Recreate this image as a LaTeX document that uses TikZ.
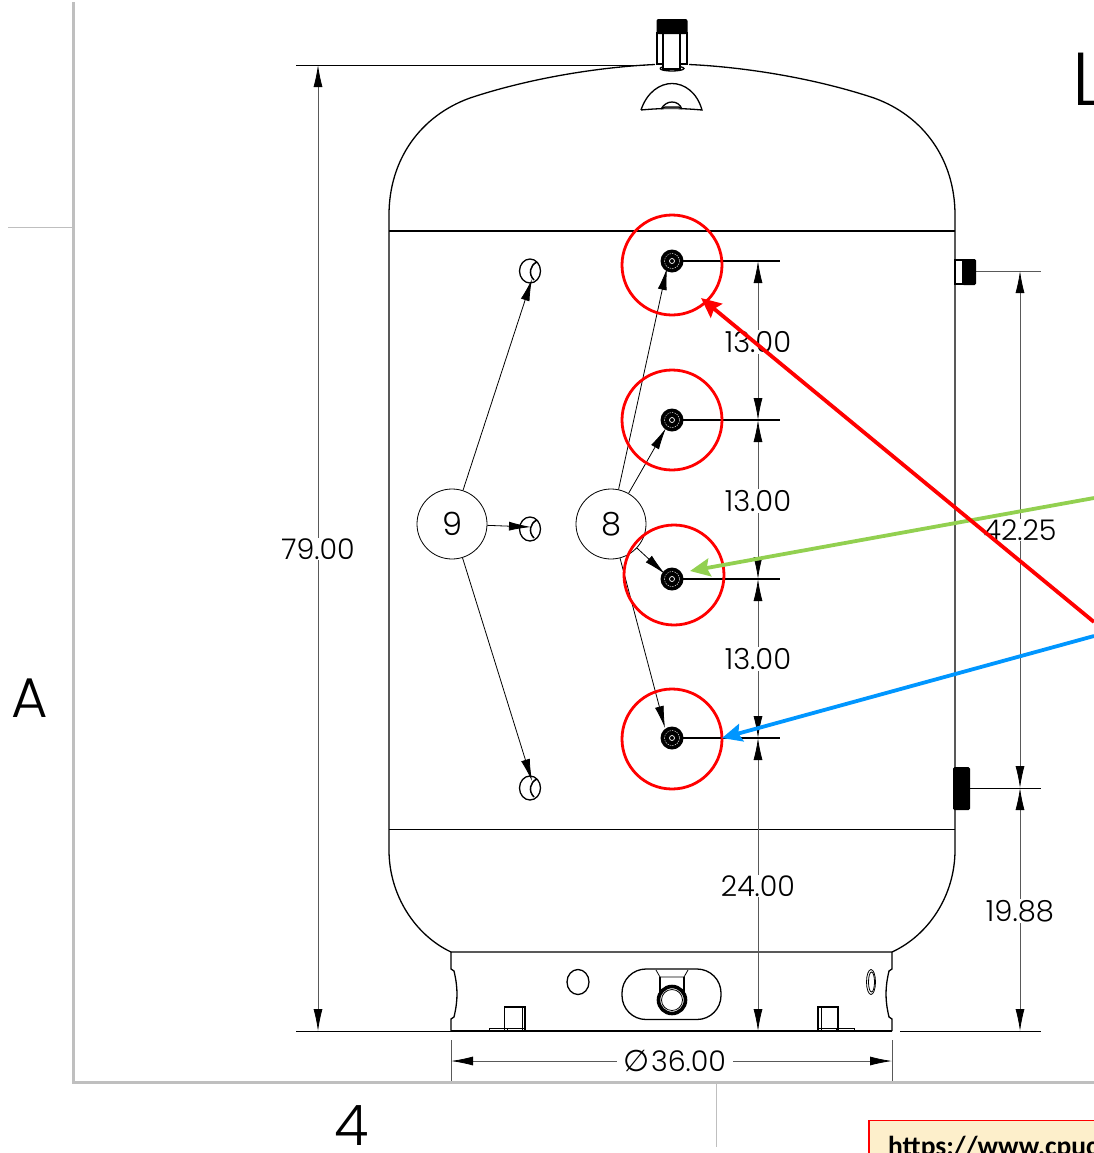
\documentclass[tikz,border=0pt]{standalone}
\usepackage{fontspec}
\setmainfont{Poppins}[UprightFont=* Light]
\newfontfamily\symfont{DejaVu Sans}
\newfontfamily\boxfont{Carlito}
\usetikzlibrary{arrows.meta,shapes.geometric}
\tikzset{
  x=1bp,y=-1bp,
  thick line/.style={line width=1.3bp,black},
  thin line/.style={line width=0.8bp,black},
  dimline/.style={line width=0.8bp,draw=black!65},
  dtip/.tip={Latex[length=22bp,width=9bp,color=black]},
  dim/.style={dimline,{dtip}-{dtip}},
  leader/.style={line width=0.8bp,black,-{Latex[length=22bp,width=9bp]}},
  dimtext/.style={inner sep=0pt,fill=white,inner xsep=1bp,inner ysep=1bp,font=\fontsize{29bp}{29bp}\selectfont,text=black},
  balloon/.style={circle,draw=black,line width=0.8bp,minimum size=70bp,inner sep=0pt,font=\fontsize{32bp}{32bp}\selectfont,fill=white},
  port/.style={circle,fill=black,minimum size=23bp,inner sep=0pt},
  redring/.style={circle,draw=red,line width=2.8bp,minimum size=100bp,inner sep=0pt},
  callout/.style={line width=3.8bp,-{Stealth[length=20bp,width=18bp,inset=3bp]}},
  frame/.style={line width=3bp,draw=black!25},
  tick/.style={line width=1bp,draw=black!25}
}
\begin{document}
\begin{tikzpicture}
\useasboundingbox (0,0) rectangle (1094,1153);
\clip (0,0) rectangle (1094,1153);
% frame
\coordinate (fa) at (73,2); \coordinate (fb) at (73,1082); \coordinate (fc) at (1094,1082);
\draw[frame] (fa) -- (fb) -- (fc);
\coordinate (t1) at (8,227); \coordinate (t2) at (73,227);
\coordinate (t3) at (716,1082); \coordinate (t4) at (716,1147);
\draw[tick] (t1) -- (t2);
\draw[tick] (t3) -- (t4);
\node[inner sep=0pt,font=\fontsize{56bp}{56bp}\selectfont] (zoneA) at (30,698) {A};
\node[inner sep=0pt,font=\fontsize{56bp}{56bp}\selectfont] (zone4) at (352,1126) {4};
\node[anchor=base west,inner sep=0pt,font=\fontsize{75bp}{75bp}\selectfont] (lett) at (1072,105) {L};
% URL box
\definecolor{boxfill}{HTML}{FDEFCB}
\node[anchor=north west,draw=red,line width=1.5bp,fill=boxfill,minimum width=300bp,minimum height=80bp,inner sep=0pt] (urlbox) at (868,1119.5) {};
\node[anchor=base west,inner sep=0pt,font=\boxfont\bfseries\fontsize{27.5bp}{27.5bp}\selectfont] (url) at (888,1155) {https://www.cpuc};
% tank body
\draw[thick line] (655,64.5) .. controls (600,67) and (530,78) .. (470,98)
  .. controls (420,116) and (389,160) .. (389,215) -- (389,850)
  .. controls (389,895) and (415,935) .. (451,952);
\draw[thick line] (689,64.5) .. controls (744,67) and (814,78) .. (874,98)
  .. controls (924,116) and (955,160) .. (955,215) -- (955,850)
  .. controls (955,895) and (929,935) .. (892,952);
\draw[thick line] (389,231) -- (955,231);
\draw[thick line] (389,829.5) -- (955,829.5);
% skirt
\draw[thick line] (451,1031) -- (451,1019) -- (454,1017) .. controls (458,1000) and (458,988) .. (454,971) -- (451,969) -- (451,952) -- (892,952)
  -- (892,969) -- (889,971) .. controls (885,988) and (885,1000) .. (889,1017) -- (892,1019) -- (892,1031);
\coordinate (b1) at (296,1031); \coordinate (b2) at (892,1031);
\coordinate (b3) at (900,1031); \coordinate (b4) at (1041,1031);
\draw[thick line] (451,1031) -- (b2);
\draw[thin line] (b1) -- (451,1031);
\draw[thin line] (b3) -- (b4);
% top fitting
\draw[thick line,fill=white] (657,33) rectangle (687,64);
\draw[thick line,fill=white] (660,68.5) arc[start angle=180,delta angle=360,x radius=12,y radius=2.5];
\draw[thick line,fill=white] (663,33) -- (663,69) -- (680,69) -- (680,33);
\fill[black,rounded corners=2bp] (656.5,34) -- (656.5,19) -- (687.5,19) -- (687.5,34) -- cycle;
% lug
\draw[thick line] (641,110) .. controls (647,92) and (660,83.5) .. (672,83.5) .. controls (684,83.5) and (697,92) .. (702,110) .. controls (680,108) and (662,108) .. (641,110);
\draw[thick line] (661,109) .. controls (664,104) and (668,102) .. (672,102) .. controls (676,102) and (680,104) .. (682,109);
\draw[thick line,fill=black!50] (662,108.5) -- (665,107) -- (679,107) -- (681,108.5);
% base details
\draw[thick line] (578,982) ellipse[x radius=11,y radius=12.5];
\draw[thin line] (871,982) ellipse[x radius=4.5,y radius=12.5];
\draw[thin line] (871.5,982) ellipse[x radius=3,y radius=10];
\draw[thick line,rounded corners=24bp] (622,969) rectangle (721,1019.5);
\draw[thin line] (656,970) -- (660,977) -- (684,977) -- (688,970);
\draw[thick line] (660,977) -- (660,992);
\draw[thick line] (684,977) -- (684,992);
\draw[line width=3.6bp,fill=white] (672,1000) circle[radius=13.5];
\draw[thin line] (672,1000) circle[radius=10.5];
\draw[thick line] (504.5,1007) rectangle (525,1031);
\draw[thin line] (522,1007) -- (522,1031);
\draw[thin line] (489,1031) -- (489,1028) -- (525,1028);
\draw[thin line] (507,1028) -- (507,1031);
\draw[thick line] (818,1007) rectangle (838,1031);
\draw[thin line] (821,1007) -- (821,1031);
\draw[thin line] (818,1028) -- (854,1028) -- (854,1031);
\draw[thin line] (836,1028) -- (836,1031);
% left holes
\foreach \n/\y in {h1/271,h2/529,h3/788}{
  \node[draw=black,line width=1.3bp,ellipse,minimum width=21bp,minimum height=24bp,inner sep=0pt] (\n) at (530,\y) {};
  \draw[line width=1.5bp] (537,\y-9) .. controls (530,\y-6) and (528,\y+3) .. (534,\y+9);
}
% extension lines
\foreach \n/\y in {p1/261,p2/420,p3/579,p4/738}{
  \coordinate (e\n) at (780,\y);
  \coordinate (\n c) at (672,\y);
  \draw[line width=1.1bp] (\n c) -- (e\n);
  \node[port] (\n) at (\n c) {};
  \draw[white,line width=0.4bp,dash pattern=on 1.5bp off 1bp] (\n c) circle[radius=7.5];
  \draw[white,line width=0.7bp] (\n c) circle[radius=2.5];
}
% right fittings
\coordinate (r1a) at (957,271); \coordinate (r1b) at (1041,271);
\coordinate (r2a) at (968,788); \coordinate (r2b) at (1041,788);
\draw[dimline] (r1a) -- (r1b);
\draw[thick line,fill=white] (955,260) rectangle (963,284);
\fill[black,rounded corners=1.5bp] (962,259) rectangle (976,285);
\fill[black,rounded corners=1.5bp] (953,767) rectangle (970,810);
\draw[thin line] (r2a) -- (r2b);
% top extension
\coordinate (x1) at (296,65); \coordinate (x2) at (645,65);
\draw[thin line] (x1) -- (x2);
% dim 79
\coordinate (d79a) at (318,65); \coordinate (d79b) at (318,1031);
\draw[dim] (d79a) -- (d79b);
\node[dimtext,font=\fontsize{28.5bp}{28.5bp}\selectfont] (t79) at (318,549) {79.00};
% dims stack x=758
\coordinate (s0) at (758,261); \coordinate (s1) at (758,420); \coordinate (s2) at (758,579); \coordinate (s3) at (758,738); \coordinate (s4) at (758,1031);
\draw[dim] (s0) -- (s1);
\draw[dim] (s1) -- (s2);
\draw[dim] (s2) -- (s3);
\draw[dim] (s3) -- (s4);
\node[dimtext] (t13a) at (758,342) {13.00};
\node[dimtext] (t13b) at (758,501) {13.00};
\node[dimtext] (t13c) at (758,659) {13.00};
\node[dimtext,font=\fontsize{28.5bp}{28.5bp}\selectfont] (t24) at (758,886) {24.00};
% dims x=1020
\coordinate (u0) at (1020,271); \coordinate (u1) at (1020,788); \coordinate (u2) at (1020,1031);
\draw[dim] (u0) -- (u1);
\draw[dim] (u1) -- (u2);
\node[dimtext] (t19) at (1020,911) {19.88};
\node[dimtext,font=\fontsize{28.5bp}{28.5bp}\selectfont] (t42) at (1020,530) {42.25};
% diameter
\coordinate (v1) at (451,1040); \coordinate (v2) at (451,1081); \coordinate (v3) at (892,1040); \coordinate (v4) at (892,1081);
\coordinate (w1) at (451,1061); \coordinate (w2) at (892,1061);
\draw[dimline] (v1) -- (v2);
\draw[dimline] (v3) -- (v4);
\draw[dim] (w1) -- (w2);
\node[dimtext,font=\fontsize{28.5bp}{28.5bp}\selectfont,inner xsep=7bp] (t36) at (675,1061) {{\symfont\fontsize{30bp}{30bp}\selectfont ∅}\hspace{1bp}36.00};
% balloons
\node[balloon] (b9) at (452,524) {9};
\node[balloon] (b8) at (611,524) {8};
\coordinate (l1) at (532,279); \coordinate (l2) at (531,527); \coordinate (l3) at (532,781);
\draw[leader] (b9) -- (l1);
\draw[leader] (b9) -- (l2);
\draw[leader] (b9) -- (l3);
\coordinate (m1) at (667,268); \coordinate (m2) at (666,428); \coordinate (m3) at (665,574); \coordinate (m4) at (665,728);
\draw[leader] (b8) -- (m1);
\draw[leader] (b8) -- (m2);
\draw[leader] (b8) -- (m3);
\draw[leader] (b8) -- (m4);
% red rings
\node[redring] (c1) at (672,265) {};
\node[redring] (c2) at (672,420) {};
\node[redring] (c3) at (674,575) {};
\node[redring] (c4) at (672,739) {};
% callouts
\coordinate (ra) at (1094,622); \coordinate (rb) at (701,298);
\coordinate (ga) at (1094,498); \coordinate (gb) at (690,571);
\coordinate (ba) at (1094,636); \coordinate (bb) at (722,738);
\definecolor{cgreen}{HTML}{92D050}
\definecolor{cblue}{HTML}{0096FF}
\draw[callout,draw=cgreen,fill=cgreen] (ga) -- (gb);
\draw[callout,draw=cblue,fill=cblue] (ba) -- (bb);
\draw[callout,draw=red,fill=red] (ra) -- (rb);
\end{tikzpicture}
\end{document}
